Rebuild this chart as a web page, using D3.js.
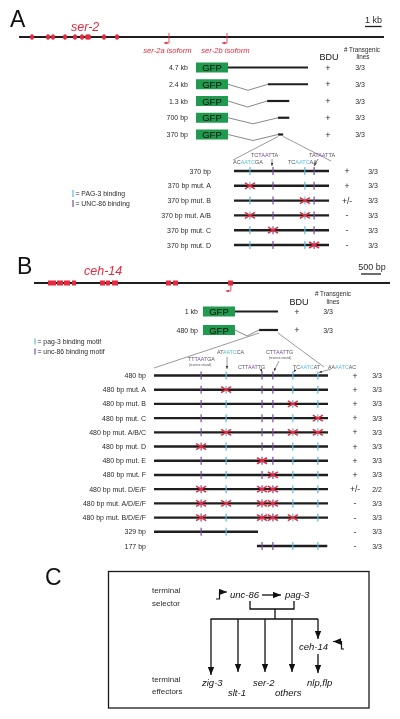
<!DOCTYPE html>
<html><head><meta charset="utf-8">
<script src="https://cdn.jsdelivr.net/npm/d3@7"></script>
<style>body{margin:0;background:#fff}svg{display:block;will-change:transform}text{font-family:"Liberation Sans",Arial,Helvetica,sans-serif}</style>
</head><body><svg id="c" width="400" height="719"></svg>
<script>
// ---------------- DATA ----------------
// Panel A: ser-2 locus (bp)
const ser2Length = 21900;
const ser2Exons = [780, 1740, 2040, 2760, 3360, 3780, 4080, 4200, 5100, 5880];
const ser2Isoforms = ["ser-2a isoform", "ser-2b isoform"];
const ser2IsoformPos = [9000, 12480];
const ser2Constructs = ["4.7 kb", "2.4 kb", "1.3 kb", "700 bp", "370 bp"];
const ser2ConstructStart = [0, 2.35, 2.3, 2.94, 2.94];   // kb (schematic)
const ser2ConstructEnd = [4.7, 4.7, 3.6, 3.6, 3.24];
const ser2ConstructBDU = ["+", "+", "+", "+", "+"];
const ser2ConstructLines = ["3/3", "3/3", "3/3", "3/3", "3/3"];
const ser2SitePos = [62, 152, 276, 312];                 // bp in 370 bp fragment
const ser2SiteType = ["pag3", "unc86", "pag3", "unc86"];
const ser2SiteSeq = [["AC","AATC","GA"], ["TC","TAAT","TA"], ["TC","AATC","AA"], ["TA","TAAT","TA"]];
const ser2Variants = ["370 bp", "370 bp mut. A", "370 bp mut. B", "370 bp mut. A/B", "370 bp mut. C", "370 bp mut. D"];
const ser2Mutated = [[], [0], [2], [0, 2], [1], [3]];
const ser2BDU = ["+", "+", "+/-", "-", "-", "-"];
const ser2Lines = ["3/3", "3/3", "3/3", "3/3", "3/3", "3/3"];

// Panel B: ceh-14 locus (bp)
const cehLength = 8900;
const cehExonStart = [350, 575, 750, 950, 1650, 1800, 1950, 3300, 3475, 4850];
const cehExonEnd   = [550, 725, 900, 1050, 1775, 1900, 2100, 3425, 3600, 4975];
const cehTSS = 4920;
const cehConstructs = ["1 kb", "480 bp"];
const cehConstructStart = [0, 0.56];
const cehConstructEnd = [1.0, 1.0];
const cehConstructBDU = ["+", "+"];
const cehConstructLines = ["3/3", "3/3"];
const cehSitePos = [130, 199, 298, 328, 383, 452];       // bp in 480 bp fragment
const cehSiteType = ["unc86", "pag3", "unc86", "unc86", "pag3", "pag3"];
const cehSiteSeq = [["TT","TAAT","GA"], ["AT","AATC","CA"], ["CT","TAAT","TG"], ["CT","TAAT","TG"], ["TC","AATC","AT"], ["AA","AATC","AC"]];
const cehSiteReverse = [true, false, false, true, false, false];
const cehVariants = ["480 bp", "480 bp mut. A", "480 bp mut. B", "480 bp mut. C", "480 bp mut. A/B/C", "480 bp mut. D",
  "480 bp mut. E", "480 bp mut. F", "480 bp mut. D/E/F", "480 bp mut. A/D/E/F", "480 bp mut. B/D/E/F", "329 bp", "177 bp"];
const cehVariantStart = [0,0,0,0,0,0,0,0,0,0,0,0,284];
const cehVariantEnd = [480,480,480,480,480,480,480,480,480,480,480,287,478];
const cehMutated = [[], [1], [4], [5], [1,4,5], [0], [2], [3], [0,2,3], [0,1,2,3], [0,2,3,4], [], []];
const cehBDU = ["+","+","+","+","+","+","+","+","+/-","-","-","-","-"];
const cehLines = ["3/3","3/3","3/3","3/3","3/3","3/3","3/3","3/3","2/2","3/3","3/3","3/3","3/3"];

// Panel C
const selectorGenes = ["unc-86", "pag-3"];
const effectorGenes = ["zig-3", "slt-1", "ser-2", "others"];
const cehTargets = ["nlp,flp"];

// ---------------- DRAWING ----------------
const RED = "#e8283c", BLUE = "#5bbbe2", PURPLE = "#7a4c9e", GREEN = "#1f9a4e", DARK = "#1e1e1e", TXT = "#2a2a2a", GRAY = "#555";
const svg = d3.select("#c");
svg.append("rect").attr("width", 400).attr("height", 719).attr("fill", "#fff");
const defs = svg.append("defs");
function marker(id, color, w, h) {
  defs.append("marker").attr("id", id).attr("viewBox", "0 0 10 8").attr("refX", 10).attr("refY", 4)
    .attr("markerWidth", w).attr("markerHeight", h).attr("orient", "auto").attr("markerUnits", "userSpaceOnUse")
    .append("path").attr("d", "M0,0L10,4L0,8z").attr("fill", color);
}
marker("arrRed", RED, 3.5, 2.8);
marker("arrSmall", "#333", 3, 2.4);
marker("arrBig", "#111", 8, 6.4);

function txt(g, x, y, s, size, opts = {}) {
  const t = g.append("text").attr("x", x).attr("y", y).attr("font-size", size).attr("fill", opts.fill || TXT)
    .attr("text-anchor", opts.anchor || "start").text(s);
  if (opts.italic) t.attr("font-style", "italic");
  return t;
}
function seqLabel(g, x, y, parts, color, size) {
  const t = g.append("text").attr("x", x).attr("y", y).attr("font-size", size).attr("fill", GRAY);
  parts.forEach((p, i) => t.append("tspan").attr("fill", i === 1 ? color : GRAY).text(p));
}
function arrow(g, x1, y1, x2, y2, id, w) {
  g.append("line").attr("x1", x1).attr("y1", y1).attr("x2", x2).attr("y2", y2)
    .attr("stroke", "#333").attr("stroke-width", w || 0.6).attr("marker-end", `url(#${id})`);
}
function siteColor(t) { return t === "pag3" ? BLUE : PURPLE; }
function drawX(g, x, y) {
  g.append("path").attr("d", `M${x-5},${y-3}L${x+5},${y+3}M${x-5},${y+3}L${x+5},${y-3}`)
    .attr("stroke", RED).attr("stroke-width", 1.5).attr("fill", "none");
}

// ===== Panel A =====
const gA = svg.append("g");
txt(gA, 10, 27, "A", 23, { fill: "#111" });
txt(gA, 71, 31, "ser-2", 12.5, { fill: RED, italic: true });
const xA = d3.scaleLinear().domain([0, ser2Length]).range([19, 384]);
gA.append("line").attr("x1", xA(0)).attr("x2", xA(ser2Length)).attr("y1", 37).attr("y2", 37).attr("stroke", DARK).attr("stroke-width", 2.2);
gA.selectAll(".ex").data(ser2Exons).join("ellipse").attr("cx", d => xA(d)).attr("cy", 37).attr("rx", 2).attr("ry", 2.8).attr("fill", RED);
ser2IsoformPos.forEach((p, i) => {
  const x = xA(p);
  gA.append("line").attr("x1", x).attr("x2", x).attr("y1", 33).attr("y2", 43).attr("stroke", RED).attr("stroke-width", 0.8);
  gA.append("line").attr("x1", x).attr("x2", x - 5).attr("y1", 43).attr("y2", 43).attr("stroke", RED).attr("stroke-width", 0.8).attr("marker-end", "url(#arrRed)");
  txt(gA, x - 1.5, 52.5, ser2Isoforms[i], 7.6, { fill: RED, italic: true, anchor: "middle" });
});
txt(gA, 373.5, 23, "1 kb", 9, { anchor: "middle" });
gA.append("line").attr("x1", 365).attr("x2", 365 + xA(1000) - xA(0)).attr("y1", 26.5).attr("y2", 26.5).attr("stroke", DARK).attr("stroke-width", 1.3);
txt(gA, 329, 60, "BDU", 9, { anchor: "middle", fill: "#111" });
txt(gA, 362, 51.5, "# Transgenic", 6.3, { anchor: "middle" });
txt(gA, 363, 59, "lines", 6.3, { anchor: "middle" });

const xAc = d3.scaleLinear().domain([0, 4.7]).range([228, 308]);
const yAc = d3.scalePoint().domain(ser2Constructs).range([67.5, 134.5]);
function constructs(g, names, starts, ends, bdu, lines, xs, ys, lab, gfp0, bduX, linesX) {
  names.forEach((n, i) => {
    const y = ys(n);
    txt(g, lab, y + 2.5, n, 7, { anchor: "end" });
    g.append("rect").attr("x", gfp0).attr("y", y - 5).attr("width", xs(0) - gfp0).attr("height", 10).attr("fill", GREEN);
    txt(g, (gfp0 + xs(0)) / 2, y + 3.5, "GFP", 9.5, { anchor: "middle", fill: "#0d0d0d" });
    if (starts[i] > 0) {
      const s = xs(starts[i]), d = xs(0) + (s - xs(0)) * 0.5;
      g.append("path").attr("d", `M${xs(0)},${y}L${d},${y + 6}L${s},${y}`).attr("fill", "none").attr("stroke", GRAY).attr("stroke-width", 0.7);
    }
    g.append("line").attr("x1", xs(starts[i])).attr("x2", xs(ends[i])).attr("y1", y).attr("y2", y).attr("stroke", DARK).attr("stroke-width", 2.2);
    txt(g, bduX, y + 3, bdu[i], 9, { anchor: "middle" });
    txt(g, linesX, y + 2.5, lines[i], 7, { anchor: "middle" });
  });
}
constructs(gA, ser2Constructs, ser2ConstructStart, ser2ConstructEnd, ser2ConstructBDU, ser2ConstructLines, xAc, yAc, 188, 196, 328, 360);

const xAv = d3.scaleLinear().domain([0, 370]).range([234, 329]);
const yAv = d3.scalePoint().domain(ser2Variants).range([171, 245]);
{
  const y = yAc(ser2Constructs[4]);
  gA.append("line").attr("x1", xAc(ser2ConstructStart[4])).attr("y1", y + 2).attr("x2", xAv(0) - 1).attr("y2", yAv(ser2Variants[0]) - 11).attr("stroke", GRAY).attr("stroke-width", 0.6);
  gA.append("line").attr("x1", xAc(ser2ConstructEnd[4])).attr("y1", y + 2).attr("x2", xAv(370) + 2).attr("y2", yAv(ser2Variants[0]) - 10).attr("stroke", GRAY).attr("stroke-width", 0.6);
}
function variants(g, names, starts, ends, sitePos, siteType, mutated, bdu, lines, xs, ys, lab, bduX, linesX) {
  names.forEach((n, i) => {
    const y = ys(n);
    txt(g, lab, y + 2.5, n, 7, { anchor: "end" });
    g.append("line").attr("x1", xs(starts[i])).attr("x2", xs(ends[i])).attr("y1", y).attr("y2", y).attr("stroke", DARK).attr("stroke-width", 2.4);
    sitePos.forEach((p, j) => {
      if (p < starts[i] || p > ends[i]) return;
      g.append("line").attr("x1", xs(p)).attr("x2", xs(p)).attr("y1", y - 4).attr("y2", y + 4).attr("stroke", siteColor(siteType[j])).attr("stroke-width", 1.2);
    });
    mutated[i].forEach(j => drawX(g, xs(sitePos[j]), y));
    txt(g, bduX, y + 3, bdu[i], 8.5, { anchor: "middle" });
    txt(g, linesX, y + 2.5, lines[i], 7, { anchor: "middle" });
  });
}
variants(gA, ser2Variants, ser2Variants.map(() => 0), ser2Variants.map(() => 370), ser2SitePos, ser2SiteType, ser2Mutated, ser2BDU, ser2Lines, xAv, yAv, 211, 347, 373);

// sequence labels A
const sA = [{ x: 233, y: 164 }, { x: 251, y: 157, a: [272, 159, 272, 166] }, { x: 288, y: 164 }, { x: 309, y: 157, a: [318, 159, 314, 166] }];
ser2SiteSeq.forEach((s, j) => {
  seqLabel(gA, sA[j].x, sA[j].y, s, siteColor(ser2SiteType[j]), 5.5);
  if (sA[j].a) arrow(gA, ...sA[j].a, "arrSmall");
});
// legend A
gA.append("line").attr("x1", 73).attr("x2", 73).attr("y1", 190).attr("y2", 197).attr("stroke", BLUE).attr("stroke-width", 1.2);
txt(gA, 75.5, 196, "= PAG-3 binding", 6.8);
gA.append("line").attr("x1", 73).attr("x2", 73).attr("y1", 200).attr("y2", 207).attr("stroke", PURPLE).attr("stroke-width", 1.2);
txt(gA, 75.5, 206, "= UNC-86 binding", 6.8);

// ===== Panel B =====
const gB = svg.append("g");
txt(gB, 17, 274, "B", 23, { fill: "#111" });
txt(gB, 84, 275, "ceh-14", 12.5, { fill: RED, italic: true });
const xB = d3.scaleLinear().domain([0, cehLength]).range([34, 390]);
txt(gB, 372, 270, "500 bp", 9, { anchor: "middle" });
gB.append("line").attr("x1", 361).attr("x2", 361 + xB(500) - xB(0)).attr("y1", 274).attr("y2", 274).attr("stroke", DARK).attr("stroke-width", 1.3);
gB.append("line").attr("x1", xB(0)).attr("x2", xB(cehLength)).attr("y1", 283).attr("y2", 283).attr("stroke", DARK).attr("stroke-width", 2);
gB.selectAll(".ex").data(cehExonStart).join("rect").attr("x", d => xB(d)).attr("width", (d, i) => xB(cehExonEnd[i]) - xB(d))
  .attr("y", 280.5).attr("height", 5).attr("fill", RED);
{
  const x = xB(cehTSS);
  gB.append("line").attr("x1", x).attr("x2", x).attr("y1", 285).attr("y2", 291).attr("stroke", RED).attr("stroke-width", 0.8);
  gB.append("line").attr("x1", x).attr("x2", x - 5).attr("y1", 291).attr("y2", 291).attr("stroke", RED).attr("stroke-width", 0.8).attr("marker-end", "url(#arrRed)");
}
txt(gB, 299, 304.5, "BDU", 9, { anchor: "middle", fill: "#111" });
txt(gB, 333, 296, "# Transgenic", 6.3, { anchor: "middle" });
txt(gB, 333, 303.5, "lines", 6.3, { anchor: "middle" });
const xBc = d3.scaleLinear().domain([0, 1.0]).range([235, 278]);
const yBc = d3.scalePoint().domain(cehConstructs).range([311.5, 330]);
constructs(gB, cehConstructs, cehConstructStart, cehConstructEnd, cehConstructBDU, cehConstructLines, xBc, yBc, 198, 203, 297, 328);

const xBv = d3.scaleLinear().domain([0, 480]).range([154, 328]);
const yBv = d3.scalePoint().domain(cehVariants).range([375.5, 546]);
{
  const y = yBc(cehConstructs[1]);
  gB.append("line").attr("x1", xBc(cehConstructStart[1])).attr("y1", y + 3).attr("x2", xBv(0)).attr("y2", 368).attr("stroke", GRAY).attr("stroke-width", 0.6);
  gB.append("line").attr("x1", xBc(cehConstructEnd[1])).attr("y1", y + 3).attr("x2", 324).attr("y2", 367).attr("stroke", GRAY).attr("stroke-width", 0.6);
}
variants(gB, cehVariants, cehVariantStart, cehVariantEnd, cehSitePos, cehSiteType, cehMutated, cehBDU, cehLines, xBv, yBv, 146, 355, 377);

const sB = [
  { x: 188, y: 361, r: [200, 366] },
  { x: 217, y: 354, a: [227, 357, 227, 369] },
  { x: 238, y: 368.5, a: [261, 369.5, 262, 372] },
  { x: 266, y: 354, r: [280, 359], a: [279, 361, 274, 371] },
  { x: 293, y: 368.5, a: [296, 369.5, 293.5, 372] },
  { x: 328, y: 368.5, a: [331, 369, 319, 372.5] }
];
cehSiteSeq.forEach((s, j) => {
  seqLabel(gB, sB[j].x, sB[j].y, s, siteColor(cehSiteType[j]), 5.3);
  if (cehSiteReverse[j]) txt(gB, sB[j].r[0], sB[j].r[1], "(reverse strand)", 3.2, { anchor: "middle", fill: GRAY });
  if (sB[j].a) arrow(gB, ...sB[j].a, "arrSmall", 0.5);
});
gB.append("line").attr("x1", 35).attr("x2", 35).attr("y1", 338.5).attr("y2", 344.5).attr("stroke", BLUE).attr("stroke-width", 1.2);
txt(gB, 37.5, 343.5, "= pag-3 binding motif", 6.8);
gB.append("line").attr("x1", 35).attr("x2", 35).attr("y1", 348.5).attr("y2", 354.5).attr("stroke", PURPLE).attr("stroke-width", 1.2);
txt(gB, 37.5, 353.5, "= unc-86 binding motif", 6.8);

// ===== Panel C =====
const gC = svg.append("g");
txt(gC, 45, 585, "C", 23, { fill: "#111" });
gC.append("rect").attr("x", 108.5).attr("y", 571.5).attr("width", 260.5).attr("height", 136.5).attr("fill", "none").attr("stroke", "#1a1a1a").attr("stroke-width", 1.3);
txt(gC, 152, 593, "terminal", 8);
txt(gC, 152, 606, "selector", 8);
txt(gC, 152, 682, "terminal", 8);
txt(gC, 152, 694, "effectors", 8);
const L = (x1, y1, x2, y2, m) => {
  const l = gC.append("line").attr("x1", x1).attr("y1", y1).attr("x2", x2).attr("y2", y2).attr("stroke", "#111").attr("stroke-width", 1.3);
  if (m) l.attr("marker-end", "url(#arrBig)");
};
gC.append("path").attr("d", "M216,599H219.5V592H227").attr("fill", "none").attr("stroke", "#111").attr("stroke-width", 1.2).attr("marker-end", "url(#arrBig)");
txt(gC, 230, 597.5, selectorGenes[0], 9.5, { italic: true, fill: "#111" });
L(262, 595, 281, 595, true);
txt(gC, 285, 597.5, selectorGenes[1], 9.5, { italic: true, fill: "#111" });
gC.append("path").attr("d", "M250,601V609H294V601M275,609V619").attr("fill", "none").attr("stroke", "#111").attr("stroke-width", 1.3);
L(210.5, 619, 318, 619);
const effX = [211, 238, 265, 292];
effX.forEach(x => L(x, 619, x, x === 211 ? 675 : 672, true));
L(318, 619, 318, 639, true);
txt(gC, 299, 650, "ceh-14", 9.5, { italic: true, fill: "#111" });
gC.append("path").attr("d", "M344,649H341.5V641.5H333").attr("fill", "none").attr("stroke", "#111").attr("stroke-width", 1.2).attr("marker-end", "url(#arrBig)");
L(318, 654, 318, 673, true);
const effLab = [{ x: 202, y: 686 }, { x: 228, y: 696 }, { x: 253, y: 686 }, { x: 275, y: 696 }];
effectorGenes.forEach((g, i) => txt(gC, effLab[i].x, effLab[i].y, g, 9.5, { italic: true, fill: "#111" }));
txt(gC, 307, 686, cehTargets[0], 9.5, { italic: true, fill: "#111" });
</script></body></html>
